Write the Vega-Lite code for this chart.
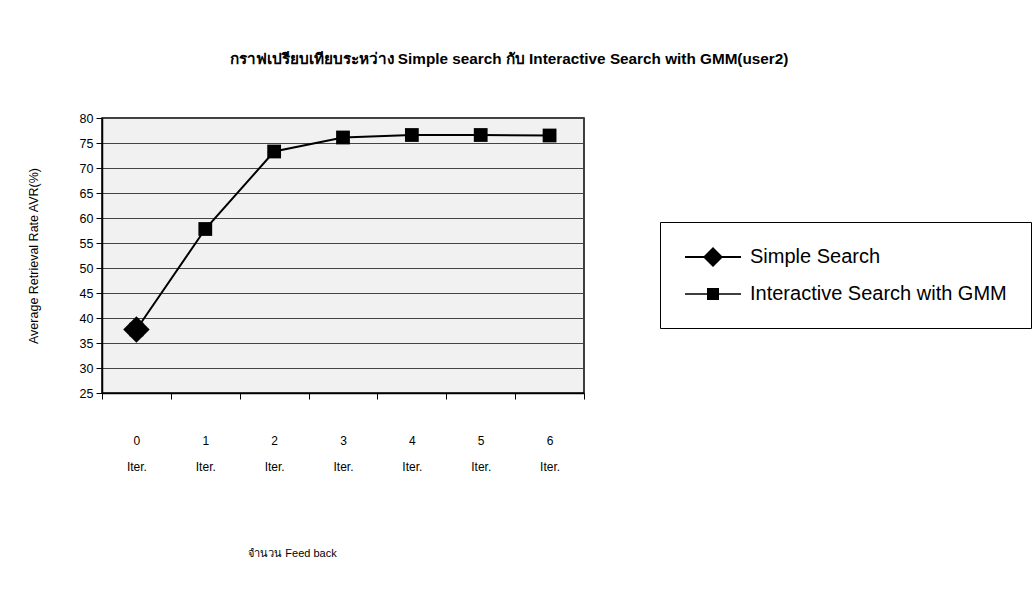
{
  "$schema": "https://vega.github.io/schema/vega-lite/v6.json",
  "width": 482,
  "height": 275,
  "autosize": {"type": "none"},
  "padding": {"left": 102, "top": 118, "right": 449, "bottom": 219},
  "background": "white",
  "title": {
    "text": "กราฟเปรียบเทียบระหว่าง Simple search กับ Interactive Search with GMM(user2)",
    "anchor": "middle",
    "frame": "group",
    "dx": 166,
    "offset": 45,
    "fontSize": 15.3,
    "fontWeight": "bold",
    "font": "Liberation Sans, Noto Sans, sans-serif",
    "color": "black"
  },
  "config": {
    "view": {"stroke": "black", "strokeWidth": 1.5, "fill": "#f1f1f1"},
    "font": "Liberation Sans, Arial, sans-serif"
  },
  "data": {
    "values": [
      {"iter": "0", "series": "Simple Search", "avr": 37.7},
      {"iter": "0", "series": "Interactive Search with GMM", "avr": 37.7},
      {"iter": "1", "series": "Interactive Search with GMM", "avr": 57.8},
      {"iter": "2", "series": "Interactive Search with GMM", "avr": 73.3},
      {"iter": "3", "series": "Interactive Search with GMM", "avr": 76.1},
      {"iter": "4", "series": "Interactive Search with GMM", "avr": 76.6},
      {"iter": "5", "series": "Interactive Search with GMM", "avr": 76.6},
      {"iter": "6", "series": "Interactive Search with GMM", "avr": 76.5}
    ]
  },
  "encoding": {
    "x": {
      "field": "iter",
      "type": "ordinal",
      "scale": {"paddingInner": 0, "paddingOuter": 0},
      "axis": {
        "title": "จำนวน Feed back",
        "titleX": 190,
        "titleY": 160,
        "titleAlign": "center",
        "titleBaseline": "middle",
        "titleFontSize": 11,
        "titleFontWeight": "normal",
        "titleColor": "black",
        "titleFont": "Liberation Sans, Noto Sans, sans-serif",
        "labelAngle": 0,
        "labelExpr": "(datum.label == null || datum.label === '') ? '' : [datum.label, 'Iter.']",
        "labelLineHeight": 26,
        "labelPadding": 41,
        "labelFontSize": 12,
        "labelColor": "black",
        "labelBaseline": "middle",
        "tickBand": "extent",
        "tickColor": "black",
        "tickSize": 6,
        "domainColor": "black",
        "domainWidth": 1.5,
        "grid": false
      }
    },
    "y": {
      "field": "avr",
      "type": "quantitative",
      "scale": {"domain": [25, 80], "nice": false, "zero": false},
      "axis": {
        "title": "Average Retrieval Rate AVR(%)",
        "titleX": -62,
        "titleFontSize": 12.5,
        "titleFontWeight": "normal",
        "titleColor": "black",
        "values": [25, 30, 35, 40, 45, 50, 55, 60, 65, 70, 75, 80],
        "labelFontSize": 12.5,
        "labelColor": "black",
        "labelPadding": 3,
        "tickColor": "black",
        "tickSize": 6,
        "domainColor": "black",
        "domainWidth": 1.5,
        "grid": true,
        "gridColor": "#444444",
        "gridWidth": 1
      }
    }
  },
  "layer": [
    {
      "mark": {"type": "line", "color": "black", "strokeWidth": 2},
      "encoding": {"detail": {"field": "series"}}
    },
    {
      "transform": [{"filter": "datum.series === 'Simple Search'"}],
      "mark": {"type": "point", "filled": true, "opacity": 1, "color": "black", "shape": "diamond", "size": 700}
    },
    {
      "transform": [{"filter": "datum.series !== 'Simple Search'"}],
      "mark": {"type": "point", "filled": true, "opacity": 1, "color": "black", "shape": "square", "size": 190}
    },
    {
      "transform": [{"filter": "false"}],
      "mark": {"type": "point", "filled": true, "opacity": 1, "color": "black"},
      "encoding": {
        "shape": {
          "field": "series",
          "type": "nominal",
          "scale": {
            "domain": ["Simple Search", "Interactive Search with GMM"],
            "range": [
              "M-1,-0.1L4.6,-0.1L4.6,0.1L-1,0.1ZM1.8,-1L2.8,0L1.8,1L0.8,0Z",
              "M-1,-0.08L4.6,-0.08L4.6,0.08L-1,0.08ZM1.2,-0.6L2.4,-0.6L2.4,0.6L1.2,0.6Z"
            ]
          },
          "legend": {
            "title": null,
            "orient": "none",
            "legendX": 558,
            "legendY": 104,
            "strokeColor": "black",
            "padding": 24,
            "rowPadding": 13,
            "symbolSize": 400,
            "labelOffset": 44,
            "labelFontSize": 20,
            "labelColor": "black",
            "labelLimit": 500,
            "symbolFillColor": "black",
            "symbolOpacity": 1
          }
        }
      }
    }
  ]
}
